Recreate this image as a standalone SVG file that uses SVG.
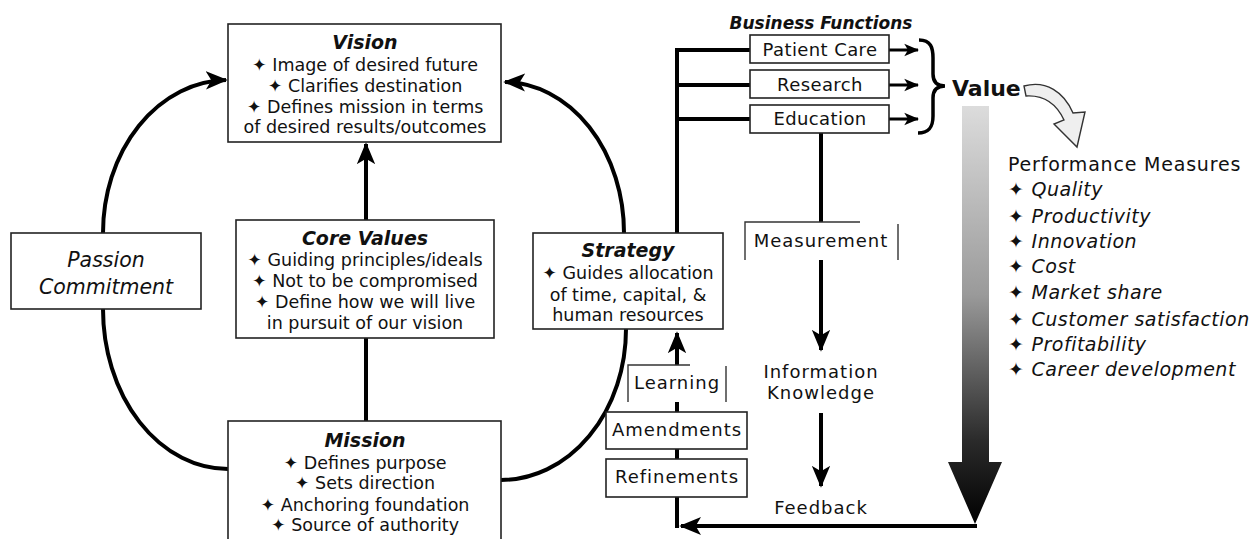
<svg xmlns="http://www.w3.org/2000/svg" width="1251" height="539" viewBox="0 0 1251 539">
  <style>
    text { font-family: "DejaVu Sans", "Liberation Sans", sans-serif; fill: #111; }
    .box { fill: #fff; stroke: #222; stroke-width: 1.6; }
    .t { font-size: 17.5px; text-anchor: middle; }
    .lbl { font-size: 18px; letter-spacing: 1px; text-anchor: middle; }
    .fn { font-size: 18px; letter-spacing: 0.4px; text-anchor: middle; }
    .h { font-size: 19px; font-weight: bold; font-style: italic; text-anchor: middle; }
    .pm { font-size: 19px; letter-spacing: 0.8px; }
    .pmi { font-size: 19px; font-style: italic; letter-spacing: 0.5px; }
    .thick { fill: none; stroke: #000; stroke-width: 4; }
    .mid { fill: none; stroke: #000; stroke-width: 3; }
    .frame { fill: none; stroke: #333; stroke-width: 1.4; }
  </style>
  <defs>
    <marker id="head" viewBox="0 0 12 10" refX="11" refY="5" markerWidth="5.5" markerHeight="5" orient="auto" markerUnits="strokeWidth">
      <path d="M0,0 L12,5 L0,10 L3,5 z" fill="#000"/>
    </marker>
    <marker id="headSmall" viewBox="0 0 12 10" refX="11" refY="5" markerWidth="5" markerHeight="4.5" orient="auto" markerUnits="strokeWidth">
      <path d="M0,0 L12,5 L0,10 L3,5 z" fill="#000"/>
    </marker>
    <linearGradient id="shade" gradientUnits="userSpaceOnUse" x1="0" y1="106" x2="0" y2="525">
      <stop offset="0" stop-color="#dcdcdc"/>
      <stop offset="0.45" stop-color="#9a9a9a"/>
      <stop offset="0.8" stop-color="#2a2a2a"/>
      <stop offset="1" stop-color="#000"/>
    </linearGradient>
  </defs>

  <!-- connectors -->
  <g id="connectors">
    <!-- left loop: Passion/Commitment to Vision and Mission -->
    <path class="thick" d="M103,233 A125,153 0 0 1 226,80" marker-end="url(#head)"/>
    <path class="thick" d="M103,309 A125,160 0 0 0 228,469"/>
    <!-- right loop: Strategy to Vision and Mission -->
    <path class="thick" d="M624,233 A121,151 0 0 0 505,82" marker-end="url(#head)"/>
    <path class="thick" d="M626,329 A125,151 0 0 1 501,480"/>
    <!-- centre column -->
    <line class="thick" x1="366" y1="220" x2="366" y2="144" marker-end="url(#head)"/>
    <line class="thick" x1="366" y1="338" x2="366" y2="421"/>
    <!-- business function trunk -->
    <line class="thick" x1="677" y1="48" x2="677" y2="233"/>
    <line class="thick" x1="675" y1="50" x2="750" y2="50"/>
    <line class="thick" x1="675" y1="85" x2="750" y2="85"/>
    <line class="thick" x1="675" y1="119" x2="750" y2="119"/>
    <line class="mid" x1="889" y1="50" x2="918" y2="50" marker-end="url(#headSmall)"/>
    <line class="mid" x1="889" y1="85" x2="918" y2="85" marker-end="url(#headSmall)"/>
    <line class="mid" x1="889" y1="119" x2="918" y2="119" marker-end="url(#headSmall)"/>
    <!-- measurement chain -->
    <line class="thick" x1="821" y1="133" x2="821" y2="222"/>
    <line class="thick" x1="821" y1="260" x2="821" y2="350" marker-end="url(#head)"/>
    <line class="thick" x1="821" y1="413" x2="821" y2="486" marker-end="url(#head)"/>
    <!-- feedback loop back to strategy -->
    <line class="thick" x1="977" y1="526" x2="681" y2="526" marker-end="url(#head)"/>
    <line class="thick" x1="677" y1="528" x2="677" y2="333" marker-end="url(#head)"/>
    <!-- brace gathering the functions -->
    <path d="M919,40 C931,40 933,48 933,58 L933,74 C933,82 937,86 945,86 C937,86 933,90 933,98 L933,116 C933,126 930,133 918,133" fill="none" stroke="#000" stroke-width="3.5"/>
    <!-- shaded value arrow -->
    <path d="M962,106 H989 V462 H1002 L975,524 L948,462 H962 Z" fill="url(#shade)"/>
    <!-- hollow curved pointer -->
    <path d="M1024,86 C1046,80 1064,92 1073,113 L1085,112 L1077,147 L1054,124 L1064,120 C1056,103 1043,95 1026,96 Z" fill="#efefef" stroke="#333" stroke-width="1.4"/>
  </g>

  <g id="vision">
    <rect class="box" x="228" y="24" width="273" height="118"/>
    <text class="h" x="365" y="49">Vision</text>
    <text class="t" x="365" y="71">✦ Image of desired future</text>
    <text class="t" x="365" y="92">✦ Clarifies destination</text>
    <text class="t" x="365" y="113">✦ Defines mission in terms</text>
    <text class="t" x="365" y="133">of desired results/outcomes</text>
  </g>

  <g id="core-values">
    <rect class="box" x="236" y="220" width="258" height="118"/>
    <text class="h" x="365" y="245">Core Values</text>
    <text class="t" x="365" y="266">✦ Guiding principles/ideals</text>
    <text class="t" x="365" y="287">✦ Not to be compromised</text>
    <text class="t" x="365" y="308">✦ Define how we will live</text>
    <text class="t" x="365" y="329">in pursuit of our vision</text>
  </g>

  <g id="mission">
    <rect class="box" x="228" y="421" width="273" height="130"/>
    <text class="h" x="365" y="447">Mission</text>
    <text class="t" x="365" y="469">✦ Defines purpose</text>
    <text class="t" x="365" y="489">✦ Sets direction</text>
    <text class="t" x="365" y="511">✦ Anchoring foundation</text>
    <text class="t" x="365" y="531">✦ Source of authority</text>
  </g>

  <g id="passion">
    <rect class="box" x="11" y="233" width="190" height="76"/>
    <text class="h" x="106" y="267" style="font-weight:normal;font-size:20.5px">Passion</text>
    <text class="h" x="106" y="294" style="font-weight:normal;font-size:20.5px">Commitment</text>
  </g>

  <g id="strategy">
    <rect class="box" x="533" y="233" width="190" height="96"/>
    <text class="h" x="628" y="257">Strategy</text>
    <text class="t" x="628" y="279">✦ Guides allocation</text>
    <text class="t" x="628" y="301">of time, capital, &amp;</text>
    <text class="t" x="628" y="321">human resources</text>
  </g>

  <g id="business-functions">
    <text class="h" x="821" y="29" style="font-size:17px">Business Functions</text>
  </g>
  <g id="patient-care">
    <rect class="box" x="750" y="35" width="139" height="28"/>
    <text class="fn" x="820" y="56">Patient Care</text>
  </g>
  <g id="research">
    <rect class="box" x="750" y="70" width="139" height="28"/>
    <text class="fn" x="820" y="91">Research</text>
  </g>
  <g id="education">
    <rect class="box" x="750" y="105" width="139" height="28"/>
    <text class="fn" x="820" y="125">Education</text>
  </g>

  <g id="value">
    <text x="952" y="96" style="font-size:22px;font-weight:bold">Value</text>
  </g>

  <g id="measurement">
    <rect x="745" y="222" width="153" height="38" fill="#fff"/>
    <path class="frame" d="M745,260 V222 H860 M898,224 V260"/>
    <text class="lbl" x="821" y="247">Measurement</text>
  </g>

  <g id="information">
    <text class="lbl" x="821" y="378">Information</text>
    <text class="lbl" x="821" y="399">Knowledge</text>
  </g>

  <g id="feedback">
    <text class="lbl" x="821" y="514">Feedback</text>
  </g>

  <g id="learning">
    <rect x="628" y="365" width="98" height="37" fill="#fff"/>
    <path class="frame" d="M628,402 V365 H690 M726,366 V402"/>
    <text class="lbl" x="677" y="389">Learning</text>
  </g>
  <g id="amendments">
    <rect class="box" x="606" y="412" width="141" height="37"/>
    <text class="lbl" x="677" y="436">Amendments</text>
  </g>
  <g id="refinements">
    <rect class="box" x="606" y="459" width="141" height="38"/>
    <text class="lbl" x="677" y="483">Refinements</text>
  </g>

  <g id="performance-measures">
    <text class="pm" x="1008" y="171">Performance Measures</text>
    <text class="pm" x="1008" y="196">✦ <tspan class="pmi">Quality</tspan></text>
    <text class="pm" x="1008" y="223">✦ <tspan class="pmi">Productivity</tspan></text>
    <text class="pm" x="1008" y="248">✦ <tspan class="pmi">Innovation</tspan></text>
    <text class="pm" x="1008" y="273">✦ <tspan class="pmi">Cost</tspan></text>
    <text class="pm" x="1008" y="299">✦ <tspan class="pmi">Market share</tspan></text>
    <text class="pm" x="1008" y="326">✦ <tspan class="pmi">Customer satisfaction</tspan></text>
    <text class="pm" x="1008" y="351">✦ <tspan class="pmi">Profitability</tspan></text>
    <text class="pm" x="1008" y="376">✦ <tspan class="pmi">Career development</tspan></text>
  </g>
</svg>
